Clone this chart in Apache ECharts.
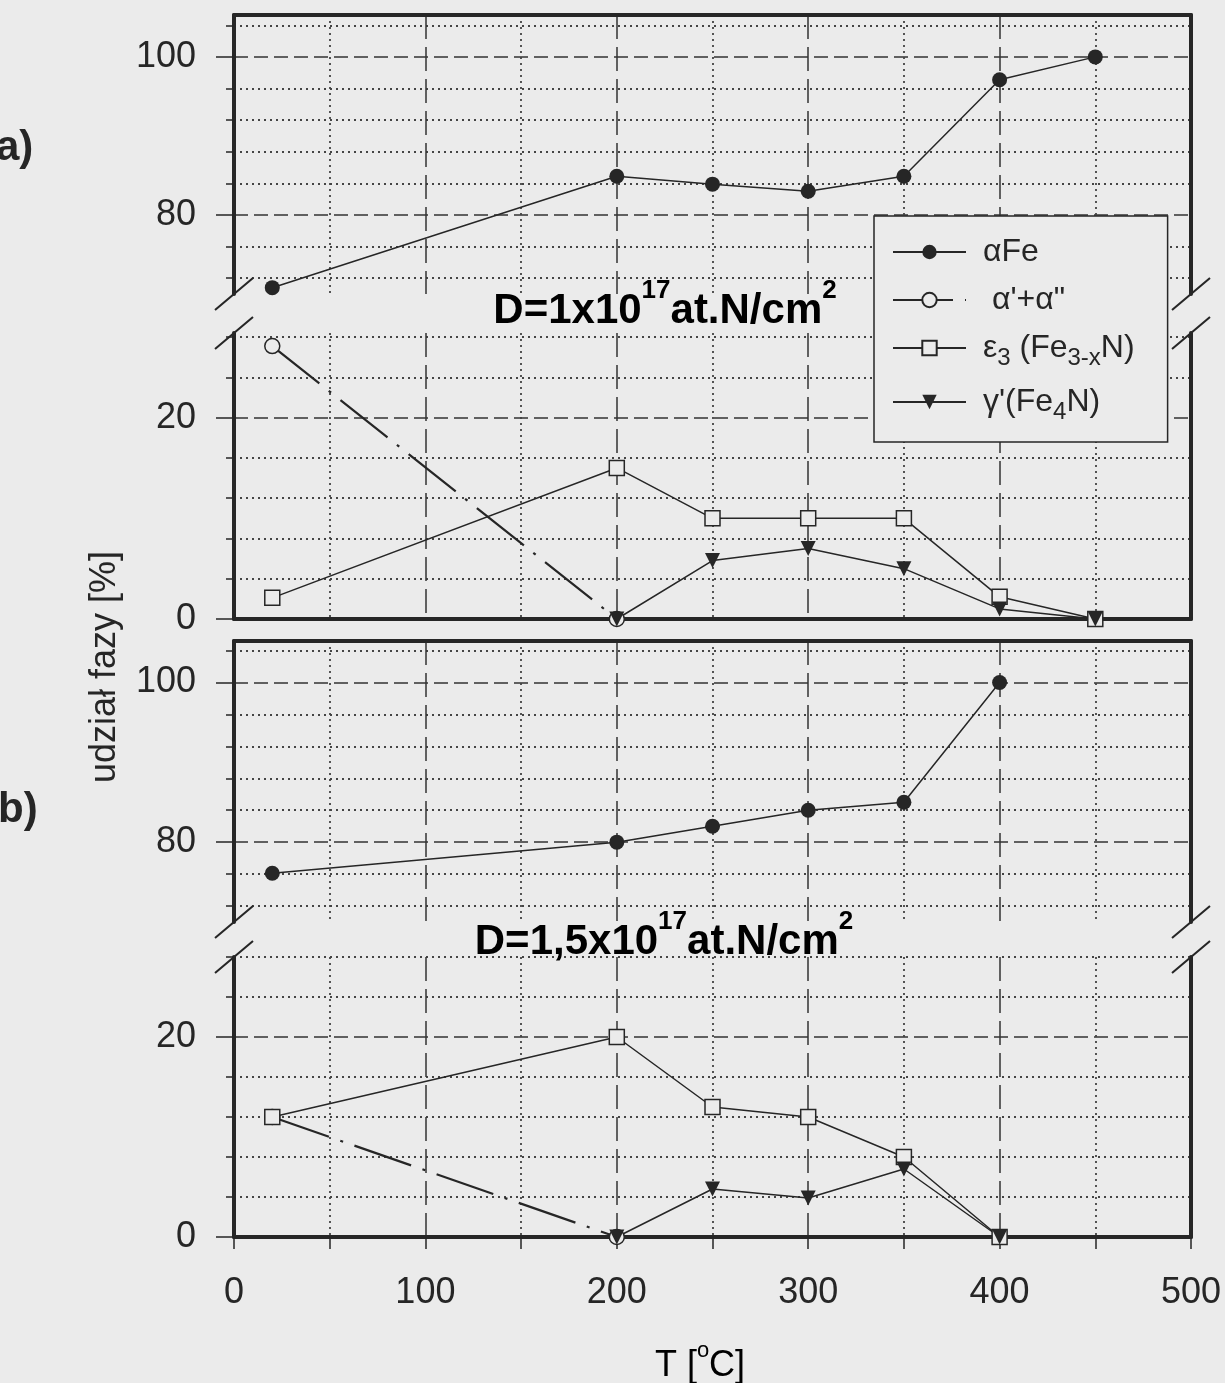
<!DOCTYPE html>
<html>
<head>
<meta charset="utf-8">
<script src="https://cdn.jsdelivr.net/npm/echarts@6/dist/echarts.min.js"></script>
<style>
html, body { margin: 0; padding: 0; background: #ebebeb; }
#main { width: 1225px; height: 1383px; }
</style>
</head>
<body>
<div id="main"></div>
<script>
// ---- data ----
// a) D=1x10^17 at.N/cm^2
var tFeA = [20, 200, 250, 300, 350, 400, 450];
var feA = [70.8, 84.9, 83.9, 83.0, 84.9, 97.1, 100];
var tAlphaA = [20, 200];
var alphaA = [27.1, 0];
var tEpsA = [20, 200, 250, 300, 350, 400, 450];
var epsA = [2.1, 15, 10, 10, 10, 2.2, 0];
var tGamA = [200, 250, 300, 350, 400, 450];
var gamA = [0, 5.8, 7, 5, 1, 0];
// b) D=1,5x10^17 at.N/cm^2
var tFeB = [20, 200, 250, 300, 350, 400];
var feB = [76.1, 80, 82, 84, 85, 100];
var tAlphaB = [20, 200];
var alphaB = [12, 0];
var tEpsB = [20, 200, 250, 300, 350, 400];
var epsB = [12, 20, 13, 12, 8, 0];
var tGamB = [200, 250, 300, 350, 400];
var gamB = [0, 4.8, 3.9, 6.8, 0];

// ticks
var xMajorTicks = [0, 100, 200, 300, 400, 500];
var xMinorTicks = [50, 150, 250, 350, 450];
var yTopMajor = [80, 100];
var yTopMinor = [72, 76, 84, 88, 92, 96, 104];
var yLowMajor = [0, 20];
var yLowMinor = [4, 8, 12, 16, 24, 28];

var names = ['αFe', "α'+α\"", 'ε3 (Fe3-xN)', "γ'(Fe4N)"];

var INK = '#262626';
var BG = '#ebebeb';
var FONT = '"Liberation Sans", Arial, sans-serif';

function pairs(xs, ys) {
    return xs.map(function (x, i) { return [x, ys[i]]; });
}

// 4 plot blocks: a-top, a-low, b-top, b-low
var blocks = [
    {top: 15, height: 279, min: 70, max: 105.3, isTop: true},
    {top: 333, height: 286, min: 0, max: 28.4, isTop: false},
    {top: 641, height: 281, min: 70, max: 105.2, isTop: true},
    {top: 957, height: 280, min: 0, max: 28, isTop: false}
];

var grids = [], xAxes = [], yAxes = [];
blocks.forEach(function (b, g) {
    var last = g === 3;
    grids.push({left: 234, right: 34, top: b.top, height: b.height, show: false});
    // major x (dashed, frame line)
    xAxes.push({
        type: 'value', gridIndex: g, min: 0, max: 500,
        position: b.isTop ? 'top' : 'bottom',
        axisLine: {show: true, onZero: false, lineStyle: {color: INK, width: 4}},
        axisTick: {show: last, length: 12, customValues: xMajorTicks, lineStyle: {color: INK, width: 1.5}},
        axisLabel: {show: last, customValues: xMajorTicks, margin: 38, fontSize: 36, color: INK, fontFamily: FONT},
        splitLine: {show: true, lineStyle: {type: [24, 8], color: '#333', width: 1.5}}
    });
    // minor x (dotted)
    xAxes.push({
        type: 'value', gridIndex: g, min: 0, max: 500, position: 'bottom',
        axisLine: {show: false},
        axisTick: {show: last, length: 12, customValues: xMinorTicks, lineStyle: {color: INK, width: 1.5}},
        axisLabel: {show: false},
        splitLine: {show: true, lineStyle: {type: [2, 4], color: '#444', width: 1.8}}
    });
    var maj = b.isTop ? yTopMajor : yLowMajor;
    var mnr = b.isTop ? yTopMinor : yLowMinor;
    yAxes.push({
        type: 'value', gridIndex: g, min: b.min, max: b.max, position: 'left',
        axisLine: {show: true, onZero: false, lineStyle: {color: INK, width: 4}},
        axisTick: {show: true, length: 18, customValues: maj, lineStyle: {color: INK, width: 1.5}},
        axisLabel: {show: true, customValues: maj, margin: 38, fontSize: 36, color: INK, fontFamily: FONT},
        splitLine: {show: true, lineStyle: {type: [14, 6], color: '#333', width: 1.5}}
    });
    yAxes.push({
        type: 'value', gridIndex: g, min: b.min, max: b.max, position: 'left',
        axisLine: {show: false},
        axisTick: {show: true, length: 8, customValues: mnr, lineStyle: {color: INK, width: 1.5}},
        axisLabel: {show: false},
        splitLine: {show: true, lineStyle: {type: [2, 4], color: '#444', width: 1.8}}
    });
    yAxes.push({
        type: 'value', gridIndex: g, min: b.min, max: b.max, position: 'right',
        axisLine: {show: true, onZero: false, lineStyle: {color: INK, width: 4}},
        axisTick: {show: false}, axisLabel: {show: false}, splitLine: {show: false}
    });
});

function feSeries(g, data) {
    return {
        name: names[0], type: 'line', xAxisIndex: 2 * g, yAxisIndex: 3 * g, data: data,
        symbol: 'circle', symbolSize: 15,
        itemStyle: {color: INK},
        lineStyle: {color: INK, width: 1.5}
    };
}
function alphaSeries(g, data) {
    return {
        name: names[1], type: 'line', xAxisIndex: 2 * g, yAxisIndex: 3 * g, data: data,
        symbol: 'circle', symbolSize: 15,
        itemStyle: {color: BG, borderColor: INK, borderWidth: 1.5},
        lineStyle: {color: INK, width: 2.2, type: [60, 12, 3, 12]}
    };
}
function epsSeries(g, data) {
    return {
        name: names[2], type: 'line', xAxisIndex: 2 * g, yAxisIndex: 3 * g, data: data,
        symbol: 'rect', symbolSize: 15,
        itemStyle: {color: BG, borderColor: INK, borderWidth: 1.5},
        lineStyle: {color: INK, width: 1.5}
    };
}
function gamSeries(g, data) {
    return {
        name: names[3], type: 'line', xAxisIndex: 2 * g, yAxisIndex: 3 * g, data: data,
        symbol: 'triangle', symbolRotate: 180, symbolSize: 15,
        itemStyle: {color: INK},
        lineStyle: {color: INK, width: 1.5}
    };
}

var legendText = {};
legendText[names[0]] = '{f|αFe}';
legendText[names[1]] = "{f| α'+α\"}";
legendText[names[2]] = '{f|ε}{s|3}{t| (Fe}{s|3-x}{t|N)}';
legendText[names[3]] = "{f|γ'(Fe}{s|4}{t|N)}";

var chart = echarts.init(document.getElementById('main'));
var option = {
    animation: false,
    backgroundColor: BG,
    grid: grids,
    xAxis: xAxes,
    yAxis: yAxes,
    legend: {
        orient: 'vertical', left: 874, top: 216,
        padding: [20, 33, 18, 18],
        itemWidth: 73, itemHeight: 18, itemGap: 16,
        backgroundColor: BG, borderColor: INK, borderWidth: 1.5, borderRadius: 0,
        data: names,
        formatter: function (n) { return legendText[n]; },
        textStyle: {
            color: INK, fontFamily: FONT, fontSize: 32,
            rich: {
                f: {fontSize: 32, fontFamily: FONT, color: INK, lineHeight: 44, verticalAlign: 'middle', padding: [0, 0, 0, 12]},
                t: {fontSize: 32, fontFamily: FONT, color: INK, lineHeight: 44, verticalAlign: 'middle'},
                s: {fontSize: 24, fontFamily: FONT, color: INK, lineHeight: 44, verticalAlign: 'bottom'}
            }
        }
    },
    series: [
        feSeries(0, pairs(tFeA, feA)),
        alphaSeries(1, pairs(tAlphaA, alphaA)),
        epsSeries(1, pairs(tEpsA, epsA)),
        gamSeries(1, pairs(tGamA, gamA)),
        feSeries(2, pairs(tFeB, feB)),
        alphaSeries(3, pairs(tAlphaB, alphaB)),
        epsSeries(3, pairs(tEpsB, epsB)),
        gamSeries(3, pairs(tGamB, gamB))
    ]
};
chart.setOption(option);

// decorations: titles, labels and break marks
var titleRich = {
    m: {fontSize: 42, fontWeight: 'bold', fontFamily: FONT, color: INK, lineHeight: 54, verticalAlign: 'bottom'},
    s: {fontSize: 26, fontWeight: 'bold', fontFamily: FONT, color: INK, lineHeight: 54, verticalAlign: 'top'}
};
var g = [
    {type: 'text', x: 665, y: 305, z: 10, style: {text: '{m|D=1x10}{s|17}{m|at.N/cm}{s|2}', rich: titleRich, align: 'center', verticalAlign: 'middle'}},
    {type: 'text', x: 664, y: 936, z: 10, style: {text: '{m|D=1,5x10}{s|17}{m|at.N/cm}{s|2}', rich: titleRich, align: 'center', verticalAlign: 'middle'}},
    {type: 'text', x: -4, y: 148, style: {text: 'a)', fontSize: 42, fontWeight: 'bold', fontFamily: FONT, fill: INK, verticalAlign: 'middle'}},
    {type: 'text', x: -2, y: 810, style: {text: 'b)', fontSize: 42, fontWeight: 'bold', fontFamily: FONT, fill: INK, verticalAlign: 'middle'}},
    {type: 'text', x: 105, y: 667, rotation: Math.PI / 2, style: {text: 'udział fazy [%]', fontSize: 36, fontFamily: FONT, fill: INK, align: 'center', verticalAlign: 'middle'}},
    {type: 'text', x: 700, y: 1362, style: {
        text: '{m|T [}{s|o}{m|C]}', align: 'center', verticalAlign: 'middle',
        rich: {
            m: {fontSize: 36, fontFamily: FONT, color: INK, lineHeight: 44, verticalAlign: 'bottom'},
            s: {fontSize: 22, fontFamily: FONT, color: INK, lineHeight: 44, verticalAlign: 'top'}
        }
    }}
];
function slash(p) {
    return {type: 'line', z: 10, shape: {x1: p[0] - 19, y1: p[1] + 16, x2: p[0] + 19, y2: p[1] - 16},
        style: {stroke: INK, lineWidth: 2}};
}
[0, 2].forEach(function (gi) {
    var top = blocks[gi], low = blocks[gi + 1];
    [0, 500].forEach(function (xv) {
        g.push(slash(chart.convertToPixel({xAxisIndex: 2 * gi, yAxisIndex: 3 * gi}, [xv, top.min])));
        g.push(slash(chart.convertToPixel({xAxisIndex: 2 * (gi + 1), yAxisIndex: 3 * (gi + 1)}, [xv, low.max])));
    });
});
chart.setOption({graphic: g});
</script>
</body>
</html>
